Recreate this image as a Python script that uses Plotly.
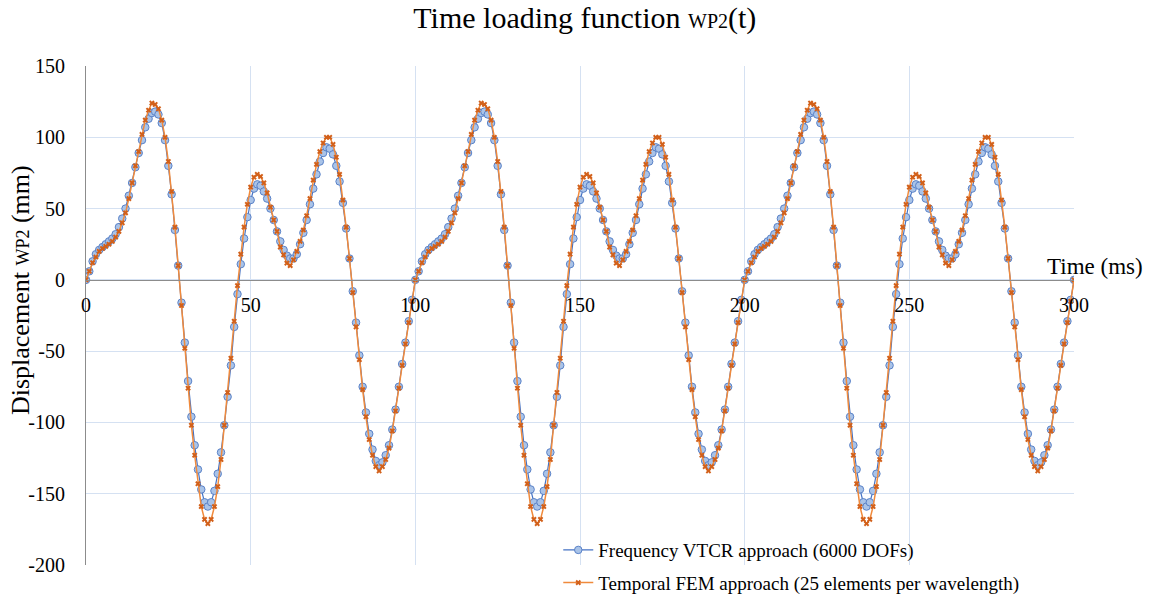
import plotly.graph_objects as go

# Time axis (ms), sampled every 1 ms
time_ms = list(range(0, 301))

# One 100 ms period of each response (t = 0..99 ms)
fem_period = [0, 6, 12, 16, 20, 22, 23.5, 25, 27, 30,
              34, 40, 47, 57, 68, 80, 90, 102, 112, 119,
              124, 123, 120, 112, 100, 83, 62, 37, 10, -18,
              -48, -76, -102, -123, -143, -159, -168, -171, -168, -159,
              -145, -126, -102, -79, -55, -29, -4, 18, 37, 53,
              65, 72, 74, 72.5, 68, 61, 51, 42, 34, 23,
              17.5, 11.7, 10, 14, 20, 27, 35, 45, 57, 70,
              81, 90, 96, 100, 100, 95, 86, 74, 56, 37,
              15, -9, -33, -56, -77, -96, -112, -123, -131, -134,
              -131, -126, -118, -106, -92, -76, -60, -45, -30, -15]

vtcr_period = [0, 6, 13, 18, 21, 23, 25, 27, 29, 32,
               37, 43, 50, 59, 68, 79, 89, 98, 107, 113,
               117, 118, 116, 110, 98, 80, 60, 35, 10, -16,
               -44, -71, -96, -116, -133, -147, -156, -159, -156, -148,
               -136, -121, -102, -82, -60, -33, -10, 11, 29, 44,
               56, 64, 67, 66, 62, 57, 50, 42, 34, 27,
               21, 17, 15, 15, 18, 25, 33, 42, 53, 64,
               74, 83, 89, 93, 92, 88, 80, 69, 54, 36,
               15, -8, -30, -53, -75, -93, -108, -119, -127, -130,
               -128, -123, -116, -105, -91, -75, -59, -44, -29, -14]

# The signal repeats every 100 ms over 0..300 ms
vtcr_values = vtcr_period * 3 + [0]
fem_values = fem_period * 3 + [0]

x_ticks = [0, 50, 100, 150, 200, 250, 300]
y_ticks = [-200, -150, -100, -50, 0, 50, 100, 150]

FONT = "Liberation Serif, Times New Roman, serif"
GRID = "#d5e1f2"

fig = go.Figure()
fig.add_trace(go.Scatter(
    x=time_ms, y=vtcr_values, mode="lines+markers",
    name="Frequency VTCR approach (6000 DOFs)", legendgroup="vtcr",
    line=dict(color="#4472c4", width=1.2),
    marker=dict(symbol="circle", size=7.5, color="#a9c3e8",
                line=dict(color="#5a82c8", width=1)),
))
fig.add_trace(go.Scatter(
    x=time_ms, y=fem_values, mode="lines+markers",
    name="Temporal FEM approach (25 elements per wavelength)", legendgroup="fem",
    line=dict(color="#f08a3c", width=1.5),
    marker=dict(symbol="x", size=5, color="#d2601a", line=dict(width=0)),
))

y_min, y_max = -200, 150
zero_pos = (0 - y_min) / (y_max - y_min)

fig.update_layout(
    width=1149, height=596,
    margin=dict(l=86, r=75, t=66, b=31, autoexpand=False),
    paper_bgcolor="white", plot_bgcolor="white",
    font=dict(family=FONT, size=18, color="#000000"),
    title=dict(
        text="Time loading function <span style='font-size:20px'>WP2</span>(t)",
        x=0.509, xanchor="center", y=0.97, yanchor="middle",
        font=dict(family=FONT, size=30, color="#000000"),
    ),
    xaxis=dict(
        range=[0, 300], tickvals=x_ticks, ticktext=[str(v) for v in x_ticks],
        showgrid=True, gridcolor=GRID, gridwidth=1,
        zeroline=False, showline=True, linecolor="#8c8c8c", linewidth=1,
        anchor="free", position=zero_pos,
        ticks="", ticklabelstandoff=7,
        tickfont=dict(family=FONT, size=20, color="#000000"),
    ),
    yaxis=dict(
        range=[y_min, y_max], tickvals=y_ticks, ticktext=[str(v) for v in y_ticks],
        showgrid=True, gridcolor=GRID, gridwidth=1,
        zeroline=False, showline=True, linecolor="#8c8c8c", linewidth=1,
        ticks="", ticklabelstandoff=16,
        tickfont=dict(family=FONT, size=20, color="#000000"),
    ),
    legend=dict(
        x=0.478, y=0.068, xanchor="left", yanchor="top",
        bgcolor="rgba(0,0,0,0)", borderwidth=0,
        font=dict(family=FONT, size=19, color="#000000"),
        itemwidth=30, tracegroupgap=5,
    ),
    showlegend=True,
)

fig.add_annotation(
    text="Displacement <span style='font-size:18px'>WP2</span> (mm)",
    xref="paper", yref="paper", x=-0.0668, y=0.551,
    xanchor="center", yanchor="middle",
    textangle=-90, showarrow=False,
    font=dict(family=FONT, size=26, color="#000000"),
)
fig.add_annotation(
    text="Time (ms)",
    xref="paper", yref="paper", x=1.0718, y=0.599,
    xanchor="right", yanchor="middle",
    showarrow=False,
    font=dict(family=FONT, size=23, color="#000000"),
)

# Remove the default page margin so the figure fills the window exactly
fig.write_html("out.html",
               config={"displayModeBar": False},
               post_script="document.body.style.margin='0';")
